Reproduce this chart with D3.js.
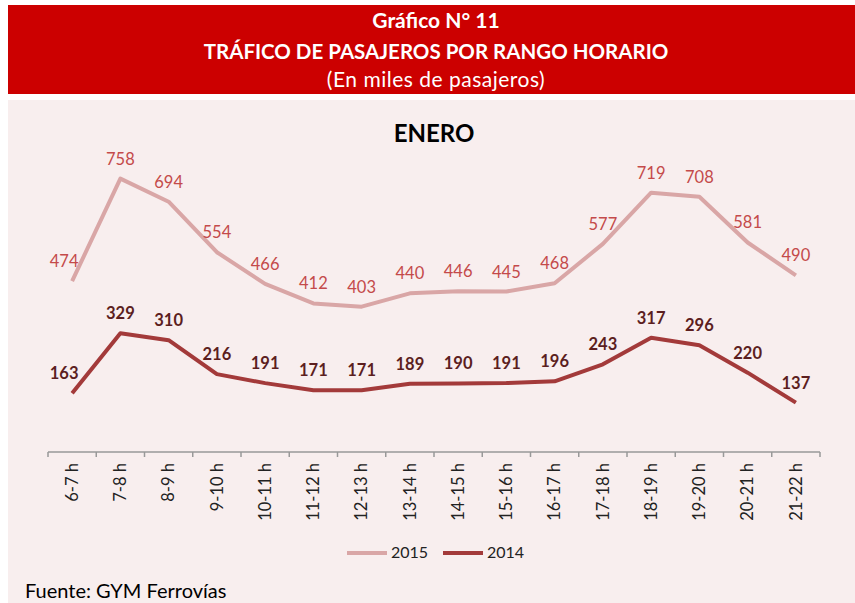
<!DOCTYPE html>
<html>
<head>
<meta charset="utf-8">
<script src="https://cdn.jsdelivr.net/npm/d3@7"></script>
<style>
  body { margin: 0; background: #fff; }
  text { font-family: Lato, "Open Sans", sans-serif; }
</style>
</head>
<body>
<div id="chart-area"></div>
<script>
const hours = ["6-7 h", "7-8 h", "8-9 h", "9-10 h", "10-11 h", "11-12 h", "12-13 h", "13-14 h",
  "14-15 h", "15-16 h", "16-17 h", "17-18 h", "18-19 h", "19-20 h", "20-21 h", "21-22 h"]
const values2015 = [474, 758, 694, 554, 466, 412, 403, 440, 446, 445, 468, 577, 719, 708, 581, 490]
const values2014 = [163, 329, 310, 216, 191, 171, 171, 189, 190, 191, 196, 243, 317, 296, 220, 137]
const seriesNames = ["2015", "2014"]

const W = 855, H = 603
const PLOT = { LEFT: 48, RIGHT: 820, TOP: 163.5, BOTTOM: 452 }

const svg = d3.select("#chart-area").append("svg")
  .attr("width", W)
  .attr("height", H)

// header box
svg.append("rect")
  .attr("x", 8).attr("y", 5)
  .attr("width", W - 8).attr("height", 89)
  .attr("fill", "#cc0000")

svg.append("text")
  .attr("x", 436).attr("y", 28)
  .attr("text-anchor", "middle")
  .attr("font-size", "21px").attr("font-weight", "bold")
  .attr("fill", "#fff")
  .text("Gráfico N° 11")
svg.append("text")
  .attr("x", 436).attr("y", 59)
  .attr("text-anchor", "middle")
  .attr("font-size", "20.5px").attr("font-weight", "bold")
  .attr("fill", "#fff")
  .text("TRÁFICO DE PASAJEROS POR RANGO HORARIO")
svg.append("text")
  .attr("x", 436).attr("y", 87)
  .attr("text-anchor", "middle")
  .attr("font-size", "21px")
  .attr("letter-spacing", "0.5px")
  .attr("fill", "#fff")
  .text("(En miles de pasajeros)")

// chart panel
svg.append("rect")
  .attr("x", 8).attr("y", 100)
  .attr("width", W - 8).attr("height", H - 100)
  .attr("fill", "#f8eeee")

svg.append("text")
  .attr("x", 434).attr("y", 142)
  .attr("text-anchor", "middle")
  .attr("font-size", "24px").attr("font-weight", "bold")
  .attr("fill", "#000")
  .text("ENERO")

const xScale = d3.scaleBand()
  .domain(hours)
  .range([PLOT.LEFT, PLOT.RIGHT])
  .padding(0)

const yScale = d3.scaleLinear()
  .domain([0, 800])
  .range([PLOT.BOTTOM, PLOT.TOP])

const xMid = d => xScale(d) + xScale.bandwidth() / 2

// x axis, ticks between categories
const xAxis = svg.append("g")
svg.append("line")
  .attr("x1", PLOT.LEFT).attr("x2", PLOT.RIGHT)
  .attr("y1", yScale(0)).attr("y2", yScale(0))
  .attr("stroke", "#999").attr("stroke-width", 1.5)
xAxis.selectAll("line.tick")
  .data(hours.map(h => xScale(h)).concat([PLOT.RIGHT]))
  .enter().append("line")
  .attr("class", "tick")
  .attr("x1", d => d).attr("x2", d => d)
  .attr("y1", yScale(0)).attr("y2", yScale(0) + 5)
  .attr("stroke", "#999").attr("stroke-width", 1.5)
xAxis.selectAll("text")
  .data(hours)
  .enter().append("text")
  .attr("transform", d => `translate(${xMid(d)}, ${yScale(0) + 11}) rotate(-90)`)
  .attr("text-anchor", "end")
  .attr("dy", "0.35em")
  .attr("font-size", "16.5px")
  .attr("fill", "#222")
  .text(d => d)

const series = [
  { name: seriesNames[0], values: values2015, line: "#d9a6a6", label: "#c44a4a", weight: "normal" },
  { name: seriesNames[1], values: values2014, line: "#a33a3a", label: "#5c1e1e", weight: "bold" }
]

const line = d3.line()
  .x((d, i) => xMid(hours[i]))
  .y(d => yScale(d))

series.forEach(s => {
  svg.append("path")
    .datum(s.values)
    .attr("d", line)
    .attr("fill", "none")
    .attr("stroke", s.line)
    .attr("stroke-width", 4)
    .attr("stroke-linejoin", "round")

  svg.selectAll(null)
    .data(s.values)
    .enter().append("text")
    .attr("x", (d, i) => xMid(hours[i]) - (i === 0 ? 8 : 0))
    .attr("y", d => yScale(d) - 14)
    .attr("text-anchor", "middle")
    .attr("font-size", "16.5px")
    .attr("font-weight", s.weight)
    .attr("fill", s.label)
    .text(d => d)
})

// legend
const legend = svg.append("g")
  .attr("transform", "translate(347, 553)")
const item = legend.selectAll("g")
  .data(series)
  .enter().append("g")
  .attr("transform", (d, i) => `translate(${i * 96}, 0)`)
item.append("line")
  .attr("x1", 0).attr("x2", 40)
  .attr("stroke", d => d.line)
  .attr("stroke-width", 4)
item.append("text")
  .attr("x", 44).attr("y", 5)
  .attr("font-size", "16px")
  .attr("fill", "#222")
  .text(d => d.name)

svg.append("text")
  .attr("x", 25).attr("y", 598)
  .attr("font-size", "20px")
  .attr("fill", "#000")
  .text("Fuente: GYM Ferrovías")
</script>
</body>
</html>
